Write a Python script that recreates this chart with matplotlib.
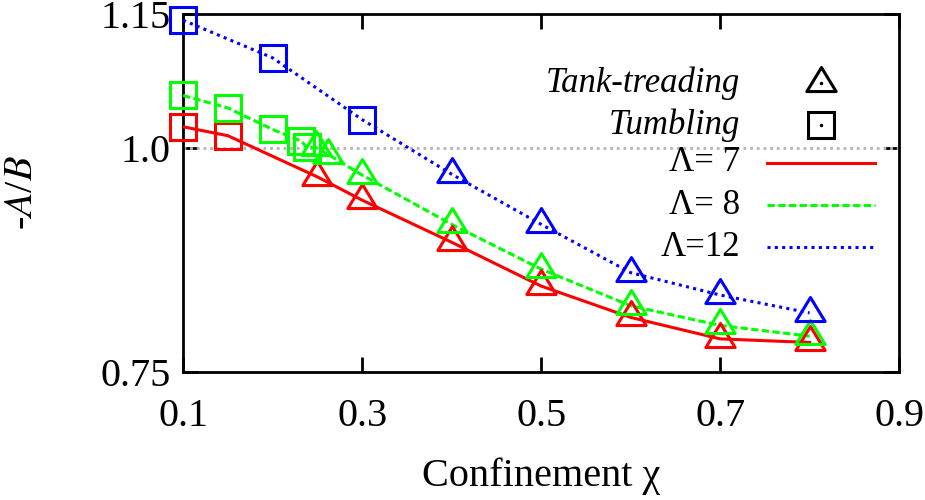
import matplotlib
matplotlib.use("Agg")
import matplotlib.pyplot as plt
import numpy as np
from matplotlib.path import Path

# Datos: -A/B frente al confinamiento chi
# Lambda = 7
chi_tu_7 = [0.10, 0.15]
ab_tu_7 = [1.024, 1.014]
chi_tt_7 = [0.25, 0.30, 0.40, 0.50, 0.60, 0.70, 0.80]
ab_tt_7 = [0.968, 0.942, 0.895, 0.846, 0.811, 0.787, 0.783]

# Lambda = 8
chi_tu_8 = [0.10, 0.15, 0.20, 0.232, 0.238]
ab_tu_8 = [1.059, 1.045, 1.021, 1.008, 1.001]
chi_tt_8 = [0.248, 0.262, 0.30, 0.40, 0.50, 0.60, 0.70, 0.80]
ab_tt_8 = [1.001, 0.993, 0.970, 0.915, 0.865, 0.824, 0.802, 0.790]

# Lambda = 12
chi_tu_12 = [0.10, 0.20, 0.30]
ab_tu_12 = [1.143, 1.101, 1.032]
chi_tt_12 = [0.40, 0.50, 0.60, 0.70, 0.80]
ab_tt_12 = [0.971, 0.915, 0.861, 0.836, 0.816]

series = [
    ("Λ= 7", "#ff0000", "-", chi_tu_7, ab_tu_7, chi_tt_7, ab_tt_7),
    ("Λ= 8", "#00ff00", (0, (2.4, 1.1)), chi_tu_8, ab_tu_8, chi_tt_8, ab_tt_8),
    ("Λ=12", "#0000ff", (0, (1.0, 1.4)), chi_tu_12, ab_tu_12, chi_tt_12, ab_tt_12),
]

xticks = [0.1, 0.3, 0.5, 0.7, 0.9]
yticks = [0.75, 1.0, 1.15]
ytick_labels = ["0.75", "1.0", "1.15"]

# Triangulo estilo gnuplot: el punto queda en el centroide
tri = Path([(0, 1.09), (-1, -0.55), (1, -0.55), (0, 1.09)],
           [Path.MOVETO, Path.LINETO, Path.LINETO, Path.CLOSEPOLY])

plt.rcParams["font.family"] = ["Liberation Serif", "DejaVu Serif"]
plt.rcParams["mathtext.fontset"] = "stix"

fig = plt.figure(figsize=(9.25, 5), dpi=100)
ax = fig.add_axes([0.198, 0.256, 0.774, 0.716])

lw = 2.2
for label, color, ls, cx1, y1, cx2, y2 in series:
    x_all = np.array(cx1 + cx2)
    y_all = np.array(y1 + y2)
    orden = np.argsort(x_all)
    ax.plot(x_all[orden], y_all[orden], color=color, ls=ls, lw=lw, zorder=3)
    ax.plot(cx1, y1, ls="none", marker="s", ms=19, mfc="none", mec=color,
            mew=2.2, zorder=4, clip_on=False)
    ax.plot(cx2, y2, ls="none", marker=tri, ms=23, mfc="none", mec=color,
            mew=2.2, zorder=4, clip_on=False)

# Linea de referencia en 1.0
ax.axhline(1.0, color="#b4b4b4", lw=2.0, ls=(0, (1.0, 1.4)), zorder=2)

ax.set_xlim(0.1, 0.9)
ax.set_ylim(0.75, 1.15)
ax.set_xticks(xticks)
ax.set_xticklabels([f"{v:.1f}" for v in xticks])
ax.set_yticks(yticks)
ax.set_yticklabels(ytick_labels)
ax.tick_params(direction="in", length=11, width=2, labelsize=29,
               top=True, right=True)
ax.tick_params(axis="x", pad=19)
ax.tick_params(axis="y", pad=9)
for s in ax.spines.values():
    s.set_linewidth(2)

ax.set_xlabel("Confinement χ", fontsize=29)
ax.xaxis.set_label_coords(0.5, -0.29)
ax.xaxis.label.set_va("center")
ax.set_ylabel("-$A$/$B$", fontsize=29)
ax.yaxis.set_label_coords(-0.225, 0.5)
ax.yaxis.label.set_va("center")

# Leyenda dibujada a mano (texto alineado a la derecha)
tx = 0.778
mx = 0.891
l0, l1 = 0.816, 0.966
filas = [0.807, 0.690, 0.584, 0.466, 0.349]
tr = ax.transAxes
ax.text(tx, filas[0], "Tank-treading", transform=tr, ha="right", va="center",
        fontsize=25, style="italic")
ax.plot([mx], [filas[0]], transform=tr, marker=tri, ms=23, mfc="none",
        mec="k", mew=2.2, ls="none")
ax.plot([mx], [filas[0]], transform=tr, marker=".", ms=3, color="k", ls="none")
ax.text(tx, filas[1], "Tumbling", transform=tr, ha="right", va="center",
        fontsize=25, style="italic")
ax.plot([mx], [filas[1]], transform=tr, marker="s", ms=19, mfc="none",
        mec="k", mew=2.2, ls="none")
ax.plot([mx], [filas[1]], transform=tr, marker=".", ms=3, color="k", ls="none")
for fila, (label, color, ls, *_) in zip(filas[2:], series):
    ax.text(tx, fila, label, transform=tr, ha="right", va="center", fontsize=25)
    ax.plot([l0, l1], [fila, fila], transform=tr, color=color, ls=ls, lw=lw)

fig.savefig("out.png", dpi=100)
